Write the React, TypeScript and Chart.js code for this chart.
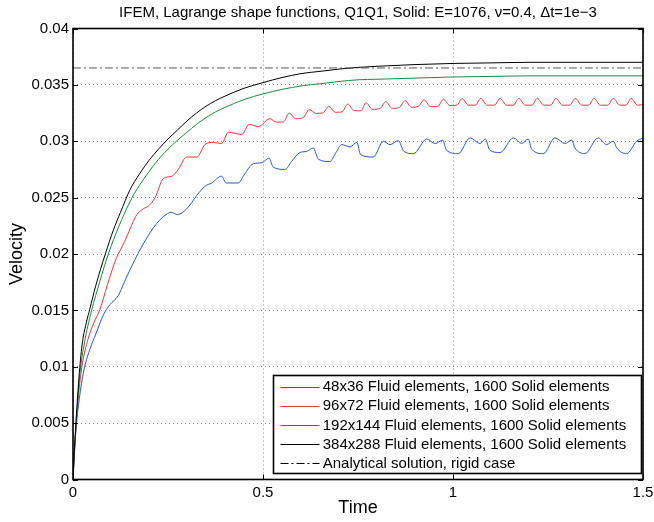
import React, { useEffect, useRef } from 'react';
import Chart from 'chart.js/auto';

const FONT = '"Liberation Sans", Arial, Helvetica, sans-serif';
const titleText = 'IFEM, Lagrange shape functions, Q1Q1, Solid: E=1076, \u03bd=0.4, \u0394t=1e\u22123';
const xTitle = 'Time';
const yTitle = 'Velocity';
const seriesLabels = [
  '48x36 Fluid elements, 1600 Solid elements',
  '96x72 Fluid elements, 1600 Solid elements',
  '192x144 Fluid elements, 1600 Solid elements',
  '384x288 Fluid elements, 1600 Solid elements',
  'Analytical solution, rigid case',
];
const seriesColors = ['#2b57c0', '#e8373a', '#1f8a3a', '#000000', '#555555'];

const xTickValues = [0, 0.5, 1, 1.5];
const xTickLabels = ['0', '0.5', '1', '1.5'];
const yTickValues = [0, 0.005, 0.01, 0.015, 0.02, 0.025, 0.03, 0.035, 0.04];
const yTickLabels = ['0', '0.005', '0.01', '0.015', '0.02', '0.025', '0.03', '0.035', '0.04'];

// 48x36 (blue)
const blueT = [0, 0.004, 0.008, 0.018, 0.03, 0.045, 0.06, 0.08, 0.097, 0.119, 0.135, 0.15, 0.185, 0.22, 0.245, 0.258, 0.275, 0.299, 0.326, 0.347, 0.365, 0.391, 0.403, 0.435, 0.45, 0.474, 0.497, 0.516, 0.527, 0.558, 0.575, 0.597, 0.615, 0.632, 0.646, 0.676, 0.692, 0.707, 0.729, 0.747, 0.757, 0.79, 0.817, 0.834, 0.856, 0.871, 0.896, 0.931, 0.953, 0.973, 0.983, 1.014, 1.045, 1.071, 1.085, 1.097, 1.124, 1.159, 1.181, 1.198, 1.207, 1.238, 1.268, 1.295, 1.312, 1.321, 1.347, 1.382, 1.404, 1.422, 1.431, 1.457, 1.483, 1.5];
const blueV = [0, 0.0024, 0.0045, 0.0075, 0.0099, 0.0116, 0.0129, 0.0146, 0.0155, 0.0163, 0.0175, 0.0186, 0.0209, 0.0227, 0.0235, 0.0237, 0.0235, 0.024, 0.0252, 0.026, 0.0263, 0.0269, 0.0263, 0.0263, 0.027, 0.028, 0.0281, 0.0285, 0.0277, 0.0275, 0.0282, 0.029, 0.0291, 0.0294, 0.0284, 0.0282, 0.029, 0.0297, 0.0295, 0.0299, 0.0288, 0.0286, 0.03, 0.0297, 0.03005, 0.0291, 0.0289, 0.0302, 0.0298, 0.0301, 0.0292, 0.0289, 0.0303, 0.0298, 0.0302, 0.0292, 0.029, 0.0303, 0.0298, 0.0302, 0.0293, 0.0289, 0.0303, 0.0298, 0.0301, 0.0294, 0.0289, 0.0303, 0.0297, 0.03, 0.0294, 0.0289, 0.03, 0.0303];

// 96x72 (red)
const redT = [0, 0.005, 0.01, 0.023, 0.04, 0.055, 0.071, 0.09, 0.105, 0.115, 0.13, 0.141, 0.155, 0.168, 0.185, 0.2, 0.216, 0.238, 0.26, 0.277, 0.299, 0.326, 0.347, 0.369, 0.391, 0.409, 0.444, 0.464, 0.488, 0.518, 0.535, 0.553, 0.569, 0.586, 0.606, 0.622, 0.639, 0.657, 0.673, 0.69, 0.708, 0.723, 0.74, 0.758, 0.771, 0.788, 0.808, 0.823, 0.84, 0.859, 0.874, 0.891, 0.909, 0.924, 0.941, 0.96, 0.975, 0.992, 1.01, 1.024, 1.041, 1.059, 1.073, 1.09, 1.109, 1.124, 1.141, 1.159, 1.173, 1.19, 1.208, 1.222, 1.239, 1.257, 1.271, 1.288, 1.307, 1.322, 1.339, 1.357, 1.371, 1.388, 1.407, 1.422, 1.439, 1.455, 1.469, 1.486, 1.5];
const redV = [0, 0.0033, 0.0058, 0.0099, 0.0125, 0.0139, 0.0151, 0.0172, 0.0188, 0.0197, 0.0207, 0.0215, 0.0226, 0.0235, 0.024, 0.0243, 0.025, 0.0267, 0.0269, 0.0275, 0.0286, 0.0286, 0.0297, 0.0299, 0.0298, 0.0308, 0.0306, 0.0315, 0.0313, 0.032, 0.0317, 0.0317, 0.0325, 0.032, 0.0321, 0.0328, 0.03248, 0.0325, 0.0331, 0.03257, 0.0326, 0.0333, 0.03272, 0.0327, 0.03342, 0.03283, 0.0329, 0.03351, 0.03292, 0.033, 0.0336, 0.03301, 0.0331, 0.03366, 0.03307, 0.0331, 0.03372, 0.03316, 0.0332, 0.03378, 0.0332, 0.0332, 0.0338, 0.0332, 0.0332, 0.0338, 0.0332, 0.0332, 0.0338, 0.0332, 0.0332, 0.0338, 0.0332, 0.0332, 0.0338, 0.0332, 0.0332, 0.0338, 0.0332, 0.0332, 0.0338, 0.0332, 0.0332, 0.0338, 0.0332, 0.0332, 0.0338, 0.0332, 0.03325];

// 192x144 (green)
const greenT = [0, 0.004, 0.009, 0.018, 0.03, 0.049, 0.07, 0.093, 0.12, 0.154, 0.175, 0.2, 0.225, 0.25, 0.275, 0.3, 0.325, 0.35, 0.375, 0.4, 0.45, 0.5, 0.55, 0.6, 0.65, 0.7, 0.75, 0.8, 0.9, 1.0, 1.1, 1.2, 1.3, 1.4, 1.5];
const greenV = [0, 0.0027, 0.0052, 0.0093, 0.0121, 0.015, 0.0175, 0.02, 0.0224, 0.0249, 0.0261, 0.0273, 0.0284, 0.0293, 0.0301, 0.0308, 0.0315, 0.0321, 0.0326, 0.033, 0.0337, 0.0342, 0.0346, 0.0349, 0.0351, 0.0353, 0.03545, 0.0355, 0.0356, 0.0357, 0.03575, 0.0358, 0.0358, 0.0358, 0.0358];

// 384x288 (black)
const blackT = [0, 0.004, 0.008, 0.0167, 0.025, 0.035, 0.044, 0.06, 0.085, 0.106, 0.125, 0.15, 0.175, 0.2, 0.225, 0.25, 0.275, 0.3, 0.325, 0.35, 0.375, 0.4, 0.45, 0.5, 0.55, 0.6, 0.65, 0.7, 0.75, 0.8, 0.9, 1.0, 1.1, 1.2, 1.3, 1.4, 1.5];
const blackV = [0, 0.0028, 0.0052, 0.0095, 0.0122, 0.0139, 0.0151, 0.0172, 0.02, 0.0221, 0.0237, 0.0257, 0.0271, 0.0283, 0.0293, 0.0302, 0.031, 0.0318, 0.0325, 0.0331, 0.0336, 0.034, 0.0347, 0.0352, 0.03565, 0.036, 0.0362, 0.0364, 0.03655, 0.03665, 0.0368, 0.0369, 0.03695, 0.037, 0.037, 0.037, 0.037];

// Analytical solution (rigid case)
const analyticT = [0, 1.5];
const analyticV = [0.0365, 0.0365];

const DASHDOT = [8, 3, 2, 3];

const pts = (ts: number[], vs: number[]) => ts.map((t, i) => ({ x: t, y: vs[i] }));

const noAutoPad = (s: any) => {
  s.paddingLeft = 0;
  s.paddingRight = 0;
  s.paddingTop = 0;
  s.paddingBottom = 0;
};

const decorPlugin = {
  id: 'matlabDecor',
  afterDraw(chart: any) {
    const { ctx, chartArea } = chart;
    const { left, right, top, bottom } = chartArea;
    const xs = chart.scales.x;
    const ys = chart.scales.y;
    ctx.save();
    // title centred over the axes
    ctx.fillStyle = '#000';
    ctx.font = '15px ' + FONT;
    ctx.textAlign = 'center';
    ctx.textBaseline = 'middle';
    ctx.fillText(titleText, (left + right) / 2, 13);

    ctx.strokeStyle = '#000';
    ctx.lineWidth = 1;
    ctx.setLineDash([]);
    ctx.beginPath();
    xTickValues.forEach((v) => {
      const px = Math.round(xs.getPixelForValue(v)) + 0.5;
      ctx.moveTo(px, bottom);
      ctx.lineTo(px, bottom - 5);
      ctx.moveTo(px, top);
      ctx.lineTo(px, top + 5);
    });
    yTickValues.forEach((v) => {
      const py = Math.round(ys.getPixelForValue(v)) + 0.5;
      ctx.moveTo(left, py);
      ctx.lineTo(left + 5, py);
      ctx.moveTo(right, py);
      ctx.lineTo(right - 5, py);
    });
    ctx.stroke();
    ctx.lineWidth = 1.6;
    ctx.strokeRect(left, top, right - left, bottom - top);

    // legend
    const lx0 = 273.5, ly0 = 375.5, lx1 = 641.5, ly1 = 473.5;
    ctx.fillStyle = '#fff';
    ctx.fillRect(lx0, ly0, lx1 - lx0, ly1 - ly0);
    ctx.lineWidth = 1.6;
    ctx.strokeStyle = '#000';
    ctx.strokeRect(lx0, ly0, lx1 - lx0, ly1 - ly0);
    ctx.font = '15px ' + FONT;
    ctx.textBaseline = 'middle';
    ctx.textAlign = 'left';
    seriesLabels.forEach((lab, i) => {
      const yy = 386.7 + i * 19.15;
      ctx.beginPath();
      ctx.lineWidth = 1;
      ctx.strokeStyle = i === 4 ? '#000' : seriesColors[i];
      ctx.setLineDash(i === 4 ? DASHDOT : []);
      ctx.moveTo(280.5, Math.round(yy) + 0.5);
      ctx.lineTo(319.5, Math.round(yy) + 0.5);
      ctx.stroke();
      ctx.setLineDash([]);
      ctx.fillStyle = '#000';
      ctx.fillText(lab, 322.7, yy + 0.5);
    });
    ctx.restore();
  },
};

export default function App() {
  const ref = useRef<HTMLCanvasElement | null>(null);
  useEffect(() => {
    document.body.style.margin = '0';
    const canvas = ref.current;
    if (!canvas) return;
    const lineDs = (i: number, data: any[], extra: any = {}) => ({
      label: seriesLabels[i],
      data,
      borderColor: seriesColors[i],
      borderWidth: 1,
      pointRadius: 0,
      fill: false,
      cubicInterpolationMode: 'monotone',
      ...extra,
    });
    const chart = new Chart(canvas, {
      type: 'line',
      data: {
        datasets: [
          lineDs(4, pts(analyticT, analyticV), { borderDash: DASHDOT, cubicInterpolationMode: 'default', tension: 0 }),
          lineDs(3, pts(blackT, blackV)),
          lineDs(2, pts(greenT, greenV)),
          lineDs(1, pts(redT, redV)),
          lineDs(0, pts(blueT, blueV)),
        ],
      },
      options: {
        animation: false,
        responsive: false,
        devicePixelRatio: 1,
        layout: { autoPadding: false, padding: { left: 0, right: 11, top: 28.5, bottom: 0 } },
        plugins: {
          legend: { display: false },
          tooltip: { enabled: false },
          title: { display: false },
        },
        scales: {
          x: {
            type: 'linear',
            min: 0,
            max: 1.5,
            afterBuildTicks: (s: any) => {
              s.ticks = xTickValues.map((v) => ({ value: v }));
            },
            afterFit: (s: any) => {
              s.height = 42.5;
              noAutoPad(s);
            },
            ticks: {
              autoSkip: false,
              maxRotation: 0,
              padding: 4,
              color: '#000',
              font: { family: FONT, size: 15 },
              callback: (v: any) => {
                const i = xTickValues.indexOf(Number(v));
                return i >= 0 ? xTickLabels[i] : '';
              },
            },
            grid: { color: 'rgba(0,0,0,0.45)', lineWidth: 1, drawTicks: false },
            border: { display: false, dash: [1, 3] },
            title: {
              display: true,
              text: xTitle,
              color: '#000',
              font: { family: FONT, size: 18 },
              padding: { top: 0, bottom: 3 },
            },
          },
          y: {
            type: 'linear',
            min: 0,
            max: 0.04,
            afterBuildTicks: (s: any) => {
              s.ticks = yTickValues.map((v) => ({ value: v }));
            },
            afterFit: (s: any) => {
              s.width = 73;
              noAutoPad(s);
            },
            ticks: {
              autoSkip: false,
              padding: 4,
              color: '#000',
              font: { family: FONT, size: 15 },
              callback: (v: any) => {
                const i = yTickValues.findIndex((t) => Math.abs(t - Number(v)) < 1e-9);
                return i >= 0 ? yTickLabels[i] : '';
              },
            },
            grid: { color: 'rgba(0,0,0,0.45)', lineWidth: 1, drawTicks: false },
            border: { display: false, dash: [1, 3] },
            title: {
              display: true,
              text: yTitle,
              color: '#000',
              font: { family: FONT, size: 18 },
              padding: { top: 6, bottom: 0 },
            },
          },
        },
      },
      plugins: [decorPlugin],
    } as any);
    return () => chart.destroy();
  }, []);
  return (
    <div style={{ width: 654, height: 522 }}>
      <canvas ref={ref} width={654} height={522} style={{ display: 'block', width: 654, height: 522 }} />
    </div>
  );
}
